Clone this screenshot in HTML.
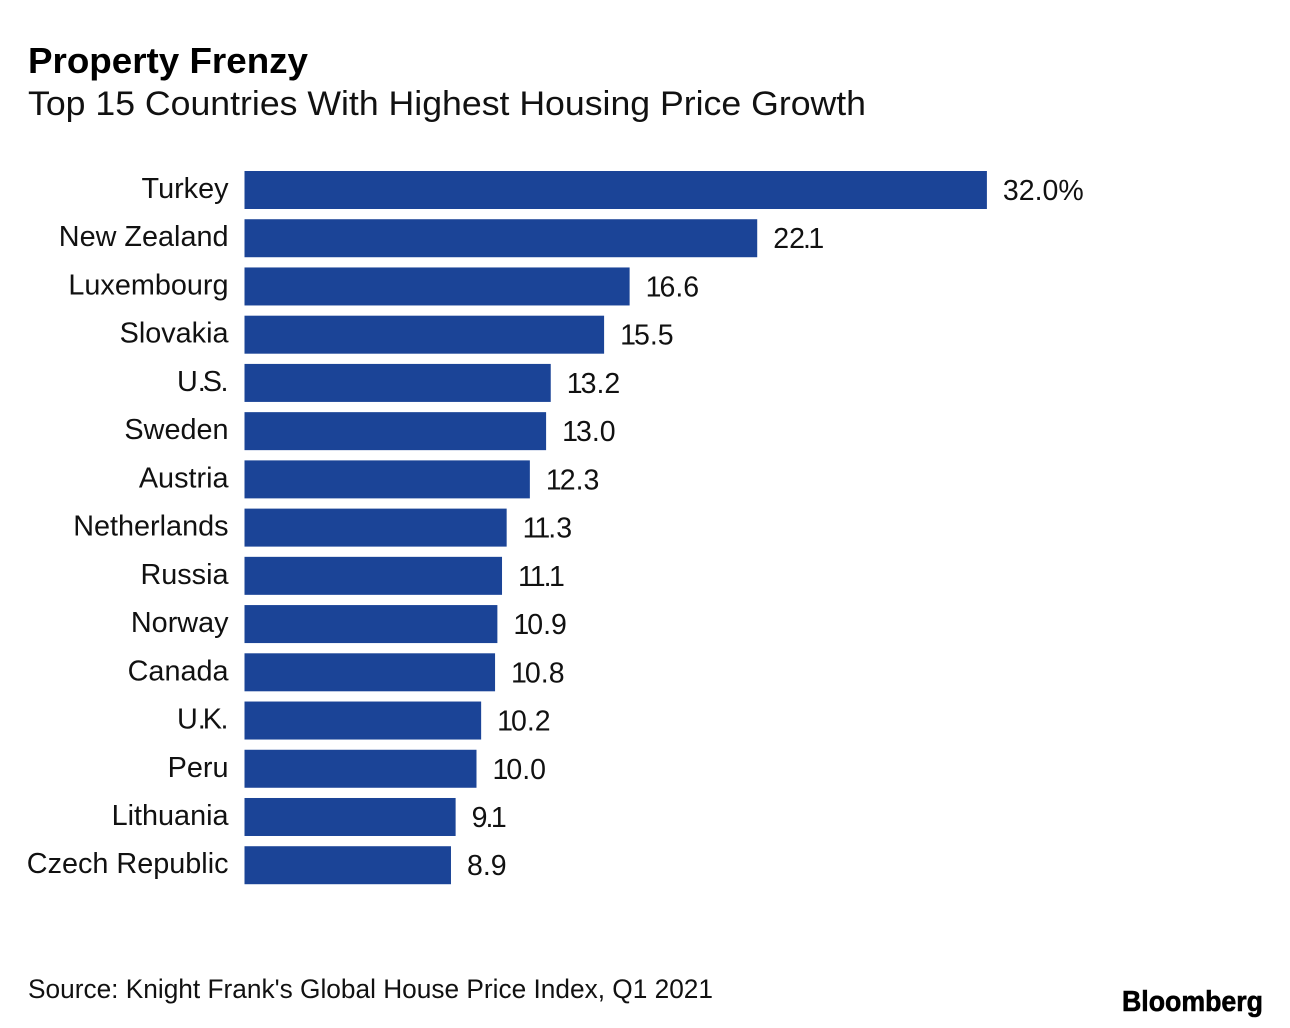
<!DOCTYPE html>
<html lang="en">
<head>
<meta charset="utf-8">
<title>Property Frenzy</title>
<style>
html,body{margin:0;padding:0;background:#fff;}
svg{display:block;font-family:"Liberation Sans",Arial,sans-serif;}
</style>
</head>
<body>
<svg id="chart" width="1290" height="1028" viewBox="0 0 1290 1028" xmlns="http://www.w3.org/2000/svg">
<rect width="1290" height="1028" fill="#ffffff"/>
<text x="28" y="73" font-size="36" font-weight="700" fill="#000" textLength="280" lengthAdjust="spacingAndGlyphs">Property Frenzy</text>
<text x="28" y="115" font-size="34" fill="#111" textLength="838" lengthAdjust="spacingAndGlyphs">Top 15 Countries With Highest Housing Price Growth</text>
<g id="bars"></g>
<text x="28" y="998" font-size="27" fill="#111" textLength="685" lengthAdjust="spacingAndGlyphs">Source: Knight Frank's Global House Price Index, Q1 2021</text>
<text x="1122" y="1011" font-size="29" font-weight="700" fill="#000" stroke="#000" stroke-width="0.6" textLength="141" lengthAdjust="spacingAndGlyphs">Bloomberg</text>
</svg>
<script>
const categories = ["Turkey","New Zealand","Luxembourg","Slovakia","U.S.","Sweden","Austria","Netherlands","Russia","Norway","Canada","U.K.","Peru","Lithuania","Czech Republic"];
const values = [32.0,22.1,16.6,15.5,13.2,13.0,12.3,11.3,11.1,10.9,10.8,10.2,10.0,9.1,8.9];
const valueLabels = ["32.0%","22.1","16.6","15.5","13.2","13.0","12.3","11.3","11.1","10.9","10.8","10.2","10.0","9.1","8.9"];

const NS = "http://www.w3.org/2000/svg";
const x0 = 244.5, unit = 23.2;
const top0 = 171, step = 48.23, barH = 38;
const xScale = v => x0 + v * unit;
const yScale = i => top0 + i * step;
const group = document.getElementById("bars");

// The reference typeface sets the digit 1 narrower; tighten gently, keeping glyphs apart.
const numberKerning = s => Array.from(s, (c, i) => {
  if (i === 0) return 0;
  if (c === "." && s[i + 1] === "1") return -2;
  if (c === "1" && s[i - 1] === ".") return -2.5;
  if (s[i - 1] === "1") return -2;
  return 0;
}).join(" ");
const nameKerning = s => Array.from(s, (c, i) => {
  if (i === 0) return 0;
  if (s[i - 1] === "." && c !== " ") return -3;
  if (c === "." && i > 1 && s[i - 2] === ".") return -1.5;
  return 0;
}).join(" ");

categories.forEach((name, i) => {
  const y = yScale(i);
  const xEnd = xScale(values[i]);

  const label = document.createElementNS(NS, "text");
  label.setAttribute("x", 228.5);
  label.setAttribute("y", y + 27);
  label.setAttribute("text-anchor", "end");
  label.setAttribute("font-size", "28.8");
  label.setAttribute("fill", "#111");
  label.setAttribute("dx", nameKerning(name));
  
  
  label.textContent = name;
  group.appendChild(label);

  const bar = document.createElementNS(NS, "rect");
  bar.setAttribute("x", x0);
  bar.setAttribute("y", y);
  bar.setAttribute("width", xEnd - x0);
  bar.setAttribute("height", barH);
  bar.setAttribute("fill", "#1b4497");
  
  
  group.appendChild(bar);

  const val = document.createElementNS(NS, "text");
  val.setAttribute("x", xEnd + 16);
  val.setAttribute("y", y + 29);
  val.setAttribute("font-size", "28.5");
  val.setAttribute("fill", "#111");
  val.setAttribute("dx", numberKerning(valueLabels[i]));
  
  
  val.textContent = valueLabels[i];
  group.appendChild(val);
});
</script>
</body>
</html>
